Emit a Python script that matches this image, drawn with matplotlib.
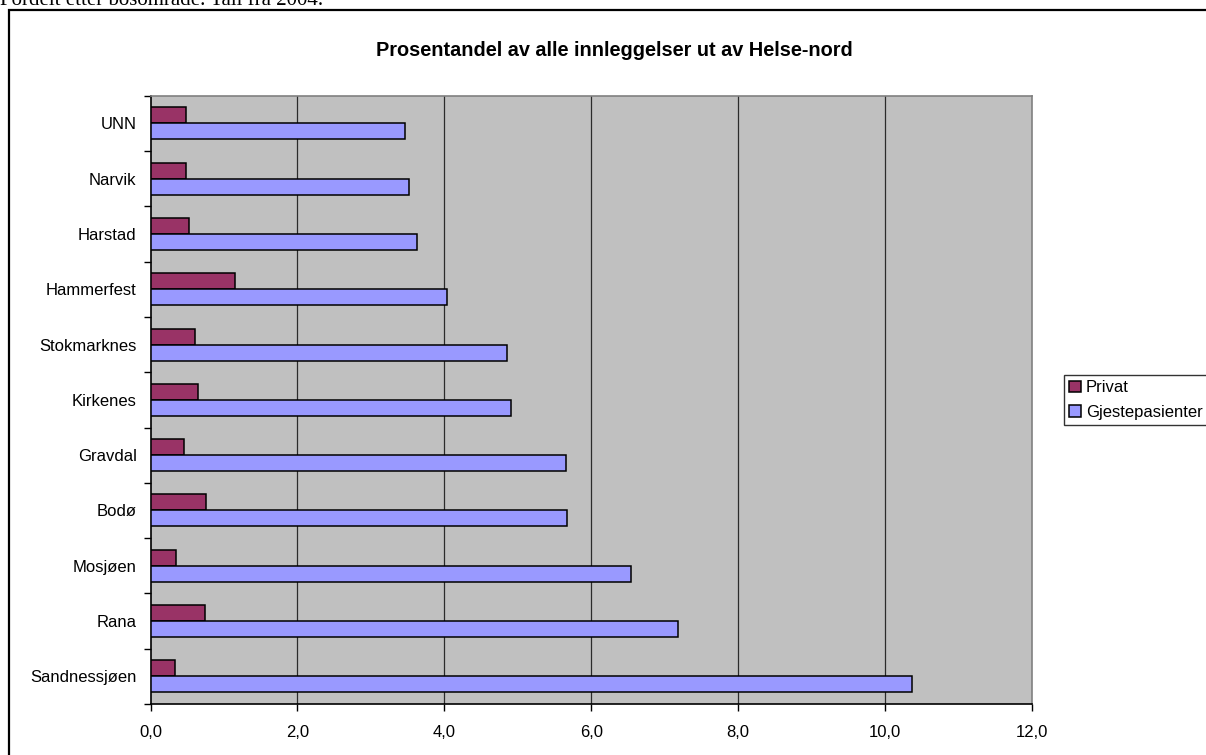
import matplotlib
matplotlib.use('Agg')
import matplotlib.pyplot as plt
import numpy as np
from matplotlib.patches import Rectangle

# Andel innleggelser ut av Helse-nord, 2004 (lest av figuren)
steder = ['Sandnessjøen', 'Rana', 'Mosjøen', 'Bodø', 'Gravdal', 'Kirkenes',
          'Stokmarknes', 'Hammerfest', 'Harstad', 'Narvik', 'UNN']
privat = [0.33, 0.74, 0.35, 0.75, 0.46, 0.65, 0.61, 1.15, 0.52, 0.48, 0.49]
gjeste = [10.37, 7.18, 6.54, 5.67, 5.65, 4.91, 4.85, 4.04, 3.63, 3.52, 3.46]
x_ticks = [0, 2, 4, 6, 8, 10, 12]

plt.rcParams['font.family'] = ['Liberation Sans', 'DejaVu Sans']

fig = plt.figure(figsize=(12.06, 7.55), dpi=100)
fig.patch.set_facecolor('white')

# Text above the chart frame (cut off at the top in the original)
fig.text(0.0, 1 - 5 / 755, 'Fordelt etter bosområde. Tall fra 2004.',
         family=['Liberation Serif', 'DejaVu Serif'], fontsize=15,
         ha='left', va='baseline')

# Chart frame (runs past the right and bottom edges)
fig.patches.append(Rectangle((9 / 1206, -0.1), 1.2, 1.1 - 10 / 755,
                             transform=fig.transFigure, fill=False,
                             edgecolor='black', linewidth=1.6))

ax = fig.add_axes([150.5 / 1206, 1 - 704 / 755, (1032 - 150.5) / 1206, (704 - 95.7) / 755])
ax.set_facecolor('#C0C0C0')

y = np.arange(len(steder))
h = 0.29
ax.barh(y + h / 2, privat, height=h, color='#993366', edgecolor='black',
        linewidth=1.1, label='Privat', zorder=3)
ax.barh(y - h / 2, gjeste, height=h, color='#9999FF', edgecolor='black',
        linewidth=1.1, label='Gjestepasienter', zorder=3)

ax.set_xlim(0, 12)
ax.set_ylim(-0.5, len(steder) - 0.5)

ax.set_xticks(x_ticks)
ax.set_xticklabels([f'{v:.1f}'.replace('.', ',') for v in x_ticks], fontsize=12)
ax.tick_params(axis='x', length=5, width=1, pad=10, direction='out')

ax.set_yticks(y)
ax.set_yticklabels(steder, fontsize=12)
ax.set_yticks(np.arange(len(steder) + 1) - 0.5, minor=True)
ax.tick_params(axis='y', which='major', length=0, pad=10)
ax.tick_params(axis='y', which='minor', length=5, width=1, direction='out')

for gx in x_ticks[1:-1]:
    ax.axvline(gx, color='#2b2b2b', linewidth=0.9, zorder=1)

ax.spines['left'].set_color('black')
ax.spines['bottom'].set_color('black')
ax.spines['top'].set_color('#808080')
ax.spines['right'].set_color('#808080')
for s in ax.spines.values():
    s.set_linewidth(1.2)

fig.text(614 / 1206, 1 - 50 / 755, 'Prosentandel av alle innleggelser ut av Helse-nord',
         fontsize=14.3, fontweight='bold', ha='center', va='center')

# Legend, Privat first
handles, labels = ax.get_legend_handles_labels()
leg = fig.legend(handles, labels, loc='center left',
                 bbox_to_anchor=(1064 / 1206, 1 - 400 / 755),
                 fontsize=12, frameon=True, fancybox=False, borderaxespad=0,
                 borderpad=0.3, labelspacing=0.55, handlelength=0.7,
                 handleheight=0.7, handletextpad=0.3)
leg.get_frame().set_edgecolor('black')
leg.get_frame().set_linewidth(1.0)

plt.savefig('out.png', dpi=100)
